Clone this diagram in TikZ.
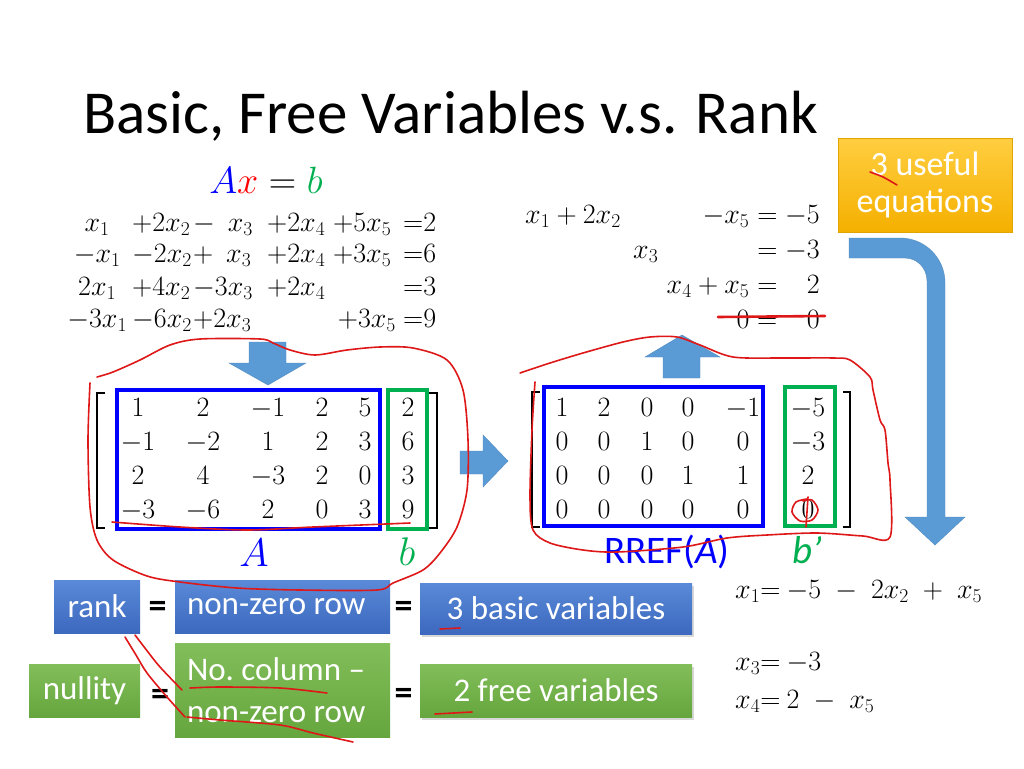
\RequirePackage{fix-cm}
\documentclass[tikz,border=0pt]{standalone}
\usepackage[no-math]{fontspec}
\setmainfont{Carlito}
\usetikzlibrary{shadows}
\definecolor{eqblue}{RGB}{0,0,255}
\definecolor{eqred}{RGB}{255,0,0}
\definecolor{eqgreen}{RGB}{0,176,80}
\definecolor{arrowblue}{RGB}{91,155,213}
\definecolor{penred}{RGB}{222,24,24}
\definecolor{boxblueT}{RGB}{90,138,216}
\definecolor{boxblueB}{RGB}{60,104,190}
\definecolor{boxgreenT}{RGB}{130,190,90}
\definecolor{boxgreenB}{RGB}{102,166,62}
\definecolor{goldT}{RGB}{255,206,64}
\definecolor{goldB}{RGB}{245,176,0}
\definecolor{goldD}{RGB}{226,164,0}
\newcommand\eqrowL[6]{\makebox[70pt][c]{$#1$}\makebox[61pt][l]{$#2$}\makebox[74pt][l]{$#3$}\makebox[66pt][l]{$#4$}\makebox[70pt][l]{$#5$}$#6$}
\newcommand\lline[1]{\makebox[191pt][l]{#1}}
\tikzset{
  eqnode/.style={inner sep=0pt, font=\fontsize{28}{34}\selectfont},
  matent/.style={anchor=base, inner sep=0pt, font=\fontsize{28}{34}\selectfont},
  blockarrow/.style={fill=arrowblue, draw=arrowblue!90!black, line width=0.4pt},
  redpen/.style={draw=penred, line width=1.6pt, line cap=round, line join=round},
  bluebox/.style={rectangle, top color=boxblueT, bottom color=boxblueB, draw=none, text=white, font=\fontsize{33}{40}\selectfont, inner sep=0pt},
  greenbox/.style={rectangle, top color=boxgreenT, bottom color=boxgreenB, draw=none, text=white, font=\fontsize{33}{42}\selectfont, inner sep=0pt},
  goldbox/.style={rectangle, top color=goldT, bottom color=goldB, draw=goldD, line width=0.6pt, text=white, font=\fontsize{34}{37}\selectfont, align=center, minimum width=174pt, minimum height=94pt, inner sep=0pt},
  eqsign/.style={inner sep=0pt, font=\fontsize{36}{40}\selectfont\bfseries},
  shadowed/.style={drop shadow={opacity=0.3, shadow xshift=1.5pt, shadow yshift=-2.5pt}},
  bracket/.style={draw=black, line width=1.3pt}
}
\begin{document}
\begin{tikzpicture}[x=1pt,y=-1pt]
\useasboundingbox (0,0) rectangle (1024,768);
\fill[white] (0,0) rectangle (1024,768);

% title
\node[anchor=base west, inner sep=0pt, font=\fontsize{61}{70}\selectfont] (title) at (83,133) {Basic, Free Variables v.s. Rank};

% Ax = b
\node[anchor=base, inner sep=0pt, font=\fontsize{38}{44}\selectfont] (axb) at (266,193) {$\textcolor{eqblue}{A}\textcolor{eqred}{x} = \textcolor{eqgreen}{b}$};

% left system
\node[eqnode, anchor=base west] (eqL1) at (62,231) {\eqrowL{x_1}{{+}2x_2}{{-}\phantom{3}x_3}{{+}2x_4}{{+}5x_5}{{=}2}};
\node[eqnode, anchor=base west] (eqL2) at (62,262) {\eqrowL{{-}x_1}{{-}2x_2}{{+}\phantom{3}x_3}{{+}2x_4}{{+}3x_5}{{=}6}};
\node[eqnode, anchor=base west] (eqL3) at (62,295) {\eqrowL{2x_1}{{+}4x_2}{{-}3x_3}{{+}2x_4}{}{{=}3}};
\node[eqnode, anchor=base west] (eqL4) at (62,327) {\eqrowL{{-}3x_1}{{-}6x_2}{{+}2x_3}{}{\,{+}3x_5}{{=}9}};

% right system
\node[eqnode, anchor=base west] (eqR1a) at (525,223) {$x_1+2x_2$};
\node[eqnode, anchor=base east] (eqR1b) at (820,223) {$-x_5=-5$};
\node[eqnode, anchor=base west] (eqR2a) at (633,258) {$x_3$};
\node[eqnode, anchor=base east] (eqR2b) at (820,258) {${}=-3$};
\node[eqnode, anchor=base east] (eqR3) at (820,293) {$x_4+x_5=\phantom{-}2$};
\node[eqnode, anchor=base east] (eqR4) at (820,328) {$0=\phantom{-}0$};

% orange box
\node[goldbox] (useful) at (925,185) {3 useful\\equations};

% block arrows
\path[blockarrow] (249,342) -- (286,342) -- (286,363) -- (306,363) -- (268,385) -- (229,363) -- (249,363) -- cycle;
\path[blockarrow] (460,451) -- (483,451) -- (483,435) -- (508,461) -- (483,487) -- (483,474) -- (460,474) -- cycle;
\path[blockarrow] (663,378) -- (663,357) -- (645,357) -- (682,335) -- (720,357) -- (700,357) -- (700,378) -- cycle;
\path[blockarrow] (849,238) -- (900,238) .. controls (925,238) and (945,258) .. (945,283) -- (945,517) -- (965,517) -- (935,545) -- (905,517) -- (927,517) -- (927,281) .. controls (927,268) and (917,258) .. (905,258) -- (849,258) -- cycle;

% left matrix
\draw[bracket] (105,393) -- (97,393) -- (97,528) -- (105,528);
\draw[bracket] (428,393) -- (437,393) -- (437,528) -- (428,528);
\draw[eqblue, line width=4pt] (117,390) rectangle (380,529);
\draw[eqgreen, line width=4pt] (388,390) rectangle (427,529);
\foreach \rowvals [count=\r] in {{1,2,-1,2,5,2},{-1,-2,1,2,3,6},{2,4,-3,2,0,3},{-3,-6,2,0,3,9}}{
  \foreach \v [count=\c] in \rowvals {
    \pgfmathsetmacro\xx{{138,203,268,322,365,408}[\c-1]}
    \node[matent] (L-\r-\c) at (\xx,382+34*\r) {$\v$};
  }
}
\node[anchor=base, inner sep=0pt, font=\fontsize{40}{48}\selectfont, text=eqblue] (labA) at (254,566) {$A$};
\node[anchor=base, inner sep=0pt, font=\fontsize{40}{48}\selectfont, text=eqgreen] (labb) at (407,565) {$b$};

% right matrix
\draw[bracket] (540,392) -- (532,392) -- (532,527) -- (540,527);
\draw[bracket] (843,392) -- (850,392) -- (850,527) -- (843,527);
\draw[eqblue, line width=4pt] (544,387) rectangle (763,526);
\draw[eqgreen, line width=4pt] (785,387) rectangle (835,526);
\foreach \rowvals [count=\r] in {{1,2,0,0,-1,-5},{0,0,1,0,0,-3},{0,0,0,1,1,2},{0,0,0,0,0,0}}{
  \foreach \v [count=\c] in \rowvals {
    \pgfmathsetmacro\xx{{562,604,647,688,743,808}[\c-1]}
    \node[matent] (R-\r-\c) at (\xx,382+34*\r) {$\v$};
  }
}
\node[anchor=base, inner sep=0pt, font=\fontsize{39}{46}\selectfont, text=eqblue] (labR) at (667,563) {RREF(\textit{A})};
\node[anchor=base, inner sep=0pt, font=\fontsize{39}{46}\selectfont, text=eqgreen] (labbp) at (807,563) {\textit{b’}};

% bottom boxes
\node[bluebox, minimum width=86pt, minimum height=53pt] (rank) at (97,606.5) {rank};
\node[bluebox, minimum width=215pt, minimum height=53pt] (nzr) at (282.5,606.5) {\lline{non-zero row}};
\node[bluebox, shadowed, minimum width=272pt, minimum height=51pt] (basic) at (556,608.5) {3 basic variables};
\node[greenbox, minimum width=111pt, minimum height=53pt] (nullity) at (84.5,690.5) {nullity};
\node[greenbox, align=left, minimum width=215pt, minimum height=94pt] (ncol) at (282.5,690) {\lline{No.\ column –}\\\lline{non-zero row}};
\node[greenbox, shadowed, minimum width=272pt, minimum height=53pt] (free) at (556,690.5) {2 free variables};
\node[eqsign] (eq1) at (157.5,609) {=};
\node[eqsign] (eq2) at (403.5,609) {=};
\node[eqsign] (eq3) at (160,697) {=};
\node[eqsign] (eq4) at (403.5,696) {=};

% solutions
\node[eqnode, anchor=base west] (sol1) at (735,598) {$x_1{=}\mskip4mu{-}5\mskip5mu-\mskip5mu2x_2\mskip5mu+\mskip5mu x_5$};
\node[eqnode, anchor=base west] (sol2) at (735,670) {$x_3{=}\mskip4mu{-}3$};
\node[eqnode, anchor=base west] (sol3) at (735,708) {$x_4{=}\mskip4mu2\mskip5mu-\mskip5mu x_5$};

% red pen annotations
\draw[redpen] plot[smooth] coordinates {(90,383) (88,440) (90,507) (97,540) (113,560) (147,576) (180,582) (237,588) (300,590) (377,590) (393,583) (423,570) (440,553) (457,527) (467,490) (468,440) (463,390) (447,360) (413,348) (380,347) (347,350) (315,355) (290,350) (273,343) (260,339) (200,339) (170,345) (140,360) (113,372) (97,377)};
\draw[redpen] plot[smooth] coordinates {(112,522) (180,527) (247,530) (313,527) (410,523)};
\draw[redpen] plot[smooth] coordinates {(535,382) (532,430) (530,497) (533,530) (550,543) (583,550) (617,552) (683,547) (727,538) (767,535) (817,533) (863,536) (890,537) (890,480) (888,463) (885,430) (880,420) (873,390) (870,377) (850,360) (833,358) (783,358) (733,357) (700,345) (677,337) (650,337) (623,342) (583,353) (550,363) (520,373)};
\draw[redpen, line width=2.6pt] (718,317) -- (825,316);
\draw[redpen] plot[smooth] coordinates {(807,499) (796,502) (792,512) (800,521) (812,520) (818,510) (812,500) (803,501)};
\draw[redpen] (808,497) -- (806,527);
\draw[redpen] plot[smooth] coordinates {(870,172) (883,177) (897,185)};
\draw[redpen] plot[smooth] coordinates {(135,635) (148,652) (160,667) (182,690)};
\draw[redpen] plot[smooth] coordinates {(125,637) (136,655) (147,673) (167,697) (185,717)};
\draw[redpen] plot[smooth] coordinates {(190,688) (220,687) (280,688) (327,693)};
\draw[redpen] plot[smooth] coordinates {(187,717) (220,720) (280,725) (313,733) (353,742)};
\draw[redpen] (440,629) -- (460,628);
\draw[redpen] (435,714) -- (472,712);
\end{tikzpicture}
\end{document}
